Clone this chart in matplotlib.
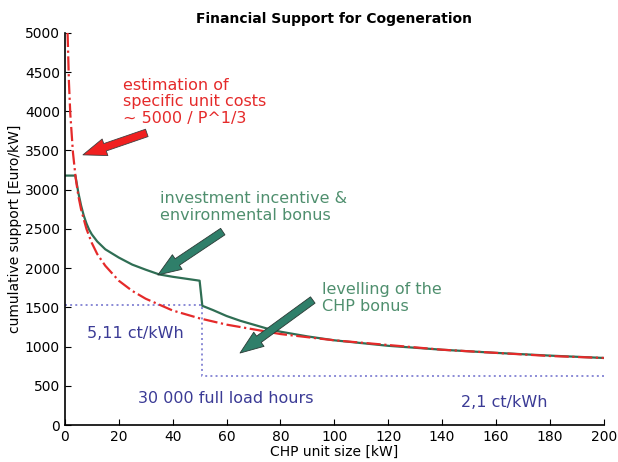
import matplotlib
matplotlib.use("Agg")
from matplotlib import pyplot as plt

# estimated unit costs (red dash-dot)
cost_x = [1, 1.5, 2, 3, 4, 5, 6, 8, 10, 12, 15, 20, 25, 30, 40, 50, 60, 70, 80,
          100, 120, 140, 160, 180, 200]
cost_y = [5000, 4370, 3970, 3470, 3150, 2920, 2750, 2500, 2320, 2180, 2030, 1840,
          1710, 1610, 1460, 1360, 1280, 1220, 1160, 1080, 1020, 960, 920, 880, 855]

# cumulative support (green)
sup_x = [0, 3.9, 5, 6, 7, 8, 9, 10, 12, 15, 20, 25, 30, 35, 40, 45, 50, 51, 55,
         60, 65, 70, 75, 80, 90, 100, 120, 140, 160, 180, 200]
sup_y = [3180, 3180, 2960, 2800, 2670, 2570, 2490, 2430, 2340, 2240, 2135, 2045,
         1980, 1920, 1890, 1865, 1840, 1520, 1465, 1390, 1330, 1280, 1230, 1190,
         1130, 1080, 1010, 960, 920, 885, 855]

# full load hours step (blue dotted)
step_x = [0, 51, 51, 200]
step_y = [1530, 1530, 630, 630]

red = "#e52a2a"
green = "#2f6e54"
green_txt = "#4f8f6e"
blue_txt = "#3b3b96"

fig = plt.figure(figsize=(6.18, 4.62), dpi=100)
ax = fig.add_axes([0.105, 0.080, 0.872, 0.849])

ax.plot(step_x, step_y, color="#8a8ad6", linestyle=":", linewidth=1.4)
ax.plot(sup_x, sup_y, color=green, linewidth=1.6)
ax.plot(cost_x, cost_y, color=red, linestyle="-.", linewidth=1.6)

ax.set_xlim(0, 200)
ax.set_ylim(0, 5000)
ax.set_xticks(range(0, 201, 20))
ax.set_yticks(range(0, 5001, 500))
ax.tick_params(direction="in", labelsize=10, length=4)
for s in ["top", "right"]:
    ax.spines[s].set_visible(False)
ax.spines["left"].set_linewidth(1.2)
ax.spines["bottom"].set_linewidth(1.2)

ax.set_title("Financial Support for Cogeneration", fontsize=10, fontweight="bold", pad=7)
ax.set_xlabel("CHP unit size [kW]", fontsize=10, labelpad=1)
ax.set_ylabel("cumulative support [Euro/kW]", fontsize=10, labelpad=2)

ax.text(21.5, 4430, "estimation of\nspecific unit costs\n~ 5000 / P^1/3", color=red,
        fontsize=11.5, va="top", linespacing=1.15)
ax.text(35.2, 2980, "investment incentive &\nenvironmental bonus", color=green_txt,
        fontsize=11.5, va="top", linespacing=1.15)
ax.text(95.4, 1820, "levelling of the\nCHP bonus", color=green_txt,
        fontsize=11.5, va="top", linespacing=1.15)
ax.text(8.2, 1173, "5,11 ct/kWh", color=blue_txt, fontsize=11.5, va="center")
ax.text(27, 344, "30 000 full load hours", color=blue_txt, fontsize=11.5, va="center")
ax.text(147, 293, "2,1 ct/kWh", color=blue_txt, fontsize=11.5, va="center")

arrow_style = "simple,head_width=0.9,head_length=1.2,tail_width=0.4"
ax.annotate("", xy=(6.7, 3444), xytext=(30.4, 3724),
            arrowprops=dict(arrowstyle=arrow_style, fc="#f02020", ec="#404040",
                            lw=0.6, mutation_scale=14, shrinkA=0, shrinkB=0))
ax.annotate("", xy=(34.5, 1913), xytext=(58.6, 2466),
            arrowprops=dict(arrowstyle=arrow_style, fc="#2f7f6a", ec="#2a3a35",
                            lw=0.6, mutation_scale=14, shrinkA=0, shrinkB=0))
ax.annotate("", xy=(65, 918), xytext=(92, 1594),
            arrowprops=dict(arrowstyle=arrow_style, fc="#2f7f6a", ec="#2a3a35",
                            lw=0.6, mutation_scale=14, shrinkA=0, shrinkB=0))

fig.savefig("out.png", dpi=100)
